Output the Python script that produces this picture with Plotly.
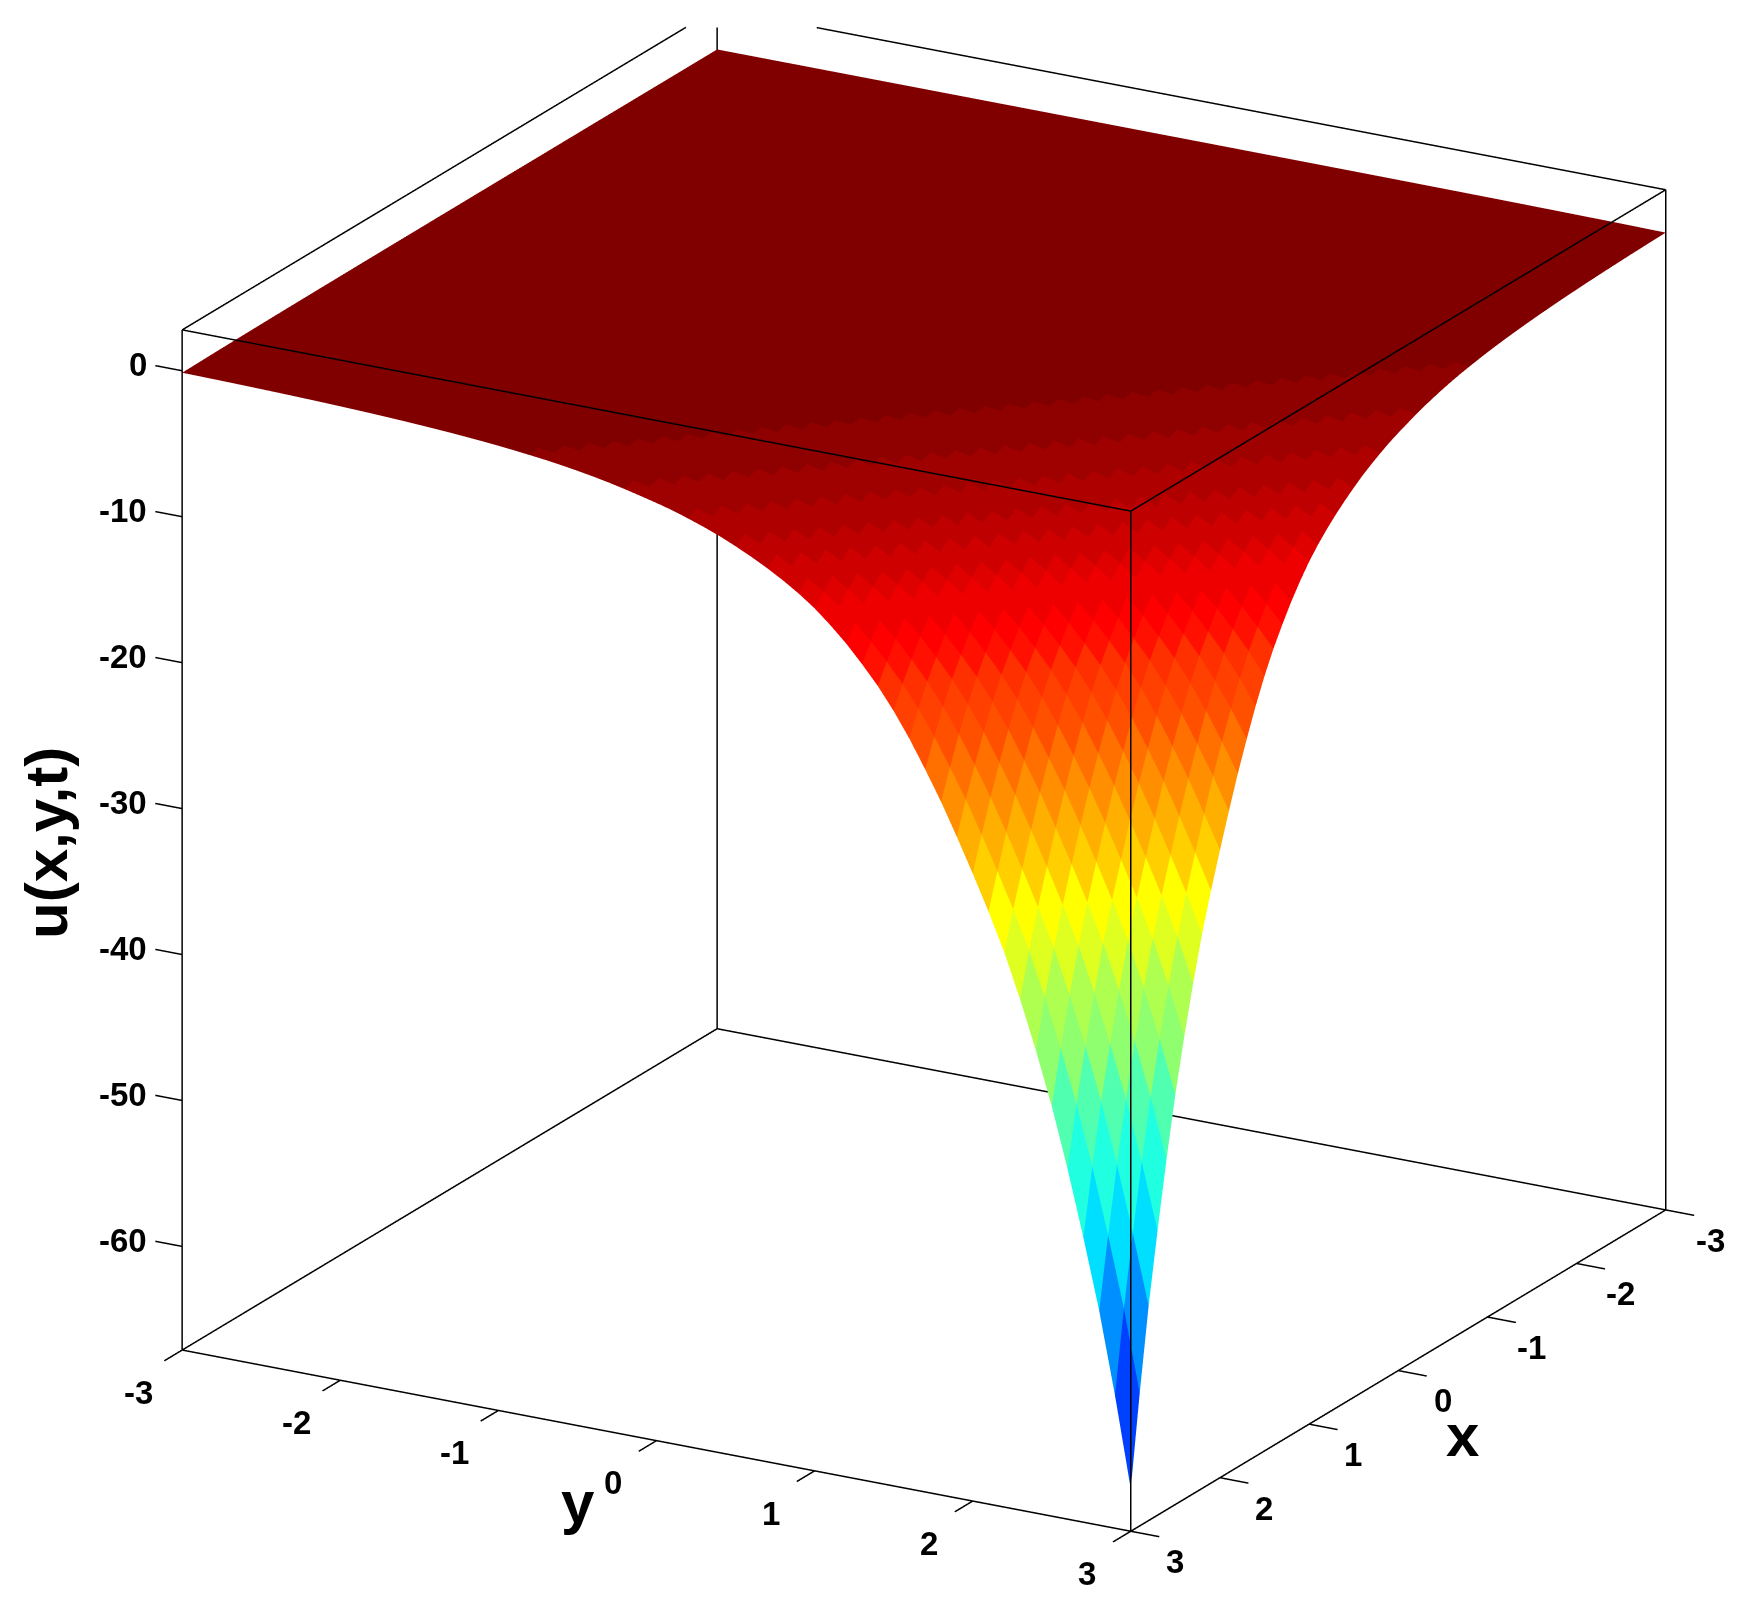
import math
import plotly.graph_objects as go

# u(x,y,t), one value per grid diagonal (x + y from -6 to 6, step 0.1)
u_by_sum = [
    -0.00033, -0.00037, -0.00041, -0.00045, -0.0005, -0.00055, -0.00061, -0.00067, -0.00075, -0.00082,
    -0.00091, -0.00101, -0.00111, -0.00123, -0.00136, -0.0015, -0.00166, -0.00183, -0.00202, -0.00224,
    -0.00247, -0.00273, -0.00302, -0.00334, -0.00369, -0.00408, -0.00451, -0.00498, -0.0055, -0.00608,
    -0.00672, -0.00743, -0.00821, -0.00907, -0.01, -0.0111, -0.0122, -0.0135, -0.015, -0.0165,
    -0.0183, -0.0202, -0.0223, -0.0247, -0.0273, -0.0301, -0.0333, -0.0368, -0.0407, -0.0449,
    -0.0497, -0.0549, -0.0607, -0.0671, -0.0741, -0.0819, -0.0905, -0.1, -0.111, -0.122,
    -0.135, -0.149, -0.165, -0.182, -0.201, -0.223, -0.246, -0.272, -0.3, -0.332,
    -0.367, -0.406, -0.448, -0.495, -0.547, -0.605, -0.669, -0.739, -0.817, -0.903,
    -1.0, -1.11, -1.23, -1.36, -1.51, -1.68, -1.87, -2.08, -2.32, -2.58,
    -2.85, -3.15, -3.5, -3.88, -4.3, -4.78, -5.3, -5.87, -6.5, -7.2,
    -8.0, -8.95, -10.0, -11.2, -12.5, -14.0, -15.7, -17.6, -19.6, -21.8,
    -24.1, -26.5, -29.1, -32.1, -35.4, -39.0, -43.1, -47.6, -52.4, -58.0,
    -64.2,
]
grid_n = 61
x_lim = [-3, 3]
y_lim = [-3, 3]
z_lim = [-67.1, 2.8]
xy_ticks = [-3, -2, -1, 0, 1, 2, 3]
z_ticks = [0, -10, -20, -30, -40, -50, -60]

# view direction, read from the box corners
azim = math.radians(29.42)
elev = math.radians(19.8)
view_dist = 0.74
eye_push = 1.5  # slide eye and centre towards the viewer so the near plane clears the box
zoom = 1.352  # orthographic scale follows the aspect ratio, not the eye distance
shift_right = 49 / 806
shift_up = 30.5 / 806


def jet(level):
    """MATLAB jet(64) colour for level 0..63"""
    t = (level + 1) / 64
    r = min(1, max(0, 1.5 - abs(4 * t - 3)))
    g = min(1, max(0, 1.5 - abs(4 * t - 2)))
    b = min(1, max(0, 1.5 - abs(4 * t - 1)))
    return f'rgb({round(r*255)},{round(g*255)},{round(b*255)})'


# mesh with one flat colour per cell, taken from the cell's low corner like shading flat
xs, ys, zs = [], [], []
for a in range(grid_n):
    for b in range(grid_n):
        xs.append(-3 + a * 0.1)
        ys.append(-3 + b * 0.1)
        zs.append(u_by_sum[a + b])

ti, tj, tk, colors = [], [], [], []
cmin, cmax = min(u_by_sum), 0
for a in range(grid_n - 1):
    for b in range(grid_n - 1):
        p00 = a * grid_n + b
        p01 = p00 + 1
        p10 = p00 + grid_n
        p11 = p10 + 1
        level = min(63, int((u_by_sum[a + b] - cmin) / (cmax - cmin) * 64))
        ti += [p00, p11]
        tj += [p01, p01]
        tk += [p10, p10]
        colors += [jet(level), jet(level)]

fig = go.Figure()
fig.add_trace(go.Mesh3d(
    x=xs, y=ys, z=zs, i=ti, j=tj, k=tk,
    facecolor=colors,
    flatshading=True,
    lighting=dict(ambient=1, diffuse=0, specular=0, roughness=1, fresnel=0),
    hoverinfo='skip',
))

# box edges and tick marks
x0, x1 = x_lim
y0, y1 = y_lim
z0, z1 = z_lim
z_cut = z1 - 1.3  # the picture is cropped just under the top back corner
segments = [
    ((x0, y0, z0), (x1, y0, z0)), ((x1, y0, z0), (x1, y1, z0)),
    ((x1, y1, z0), (x0, y1, z0)), ((x0, y1, z0), (x0, y0, z0)),
    ((x1, y0, z1), (x1, y1, z1)), ((x1, y1, z1), (x0, y1, z1)),
    ((x1, y0, z1), (-2.65, y0, z1)), ((x0, y1, z1), (x0, -2.37, z1)),
    ((x0, y0, z0), (x0, y0, z_cut)), ((x1, y0, z0), (x1, y0, z1)),
    ((x1, y1, z0), (x1, y1, z1)), ((x0, y1, z0), (x0, y1, z1)),
]
for t in xy_ticks:
    segments.append(((t, y1, z0), (t, y1 + 0.18, z0)))
    segments.append(((x1, t, z0), (x1 + 0.2, t, z0)))
for t in z_ticks:
    segments.append(((x1, y0, t), (x1, y0 - 0.17, t)))

lx, ly, lz = [], [], []
for p, q in segments:
    lx += [p[0], q[0], None]
    ly += [p[1], q[1], None]
    lz += [p[2], q[2], None]
fig.add_trace(go.Scatter3d(
    x=lx, y=ly, z=lz, mode='lines',
    line=dict(color='black', width=3),
    hoverinfo='skip', showlegend=False,
))

tick_font = dict(family='Liberation Sans', size=33, color='black', weight='bold')
title_font = dict(family='Liberation Sans', size=60, color='black', weight='bold')

labels = []
for t in z_ticks:
    labels.append(dict(x=x1, y=y0 - 0.21, z=t, text=str(t), xanchor='right', yanchor='middle'))
for t in xy_ticks:
    labels.append(dict(x=t, y=y1 + 0.28, z=z0 - 1.5, text=str(t), xanchor='center', yanchor='middle'))
    labels.append(dict(x=x1 + 0.49, y=t, z=z0 - 1.1, text=str(t), xanchor='center', yanchor='middle'))
for ann in labels:
    ann.update(showarrow=False, font=tick_font)

hidden = dict(visible=False)
right = (-math.sin(azim), math.cos(azim), 0)
up = (-math.sin(elev) * math.cos(azim), -math.sin(elev) * math.sin(azim), math.cos(elev))
look = (math.cos(azim) * math.cos(elev), math.sin(azim) * math.cos(elev), math.sin(elev))
center = [-shift_right * right[n] - shift_up * up[n] + eye_push * look[n] for n in range(3)]
eye = [center[n] + view_dist * look[n] for n in range(3)]

fig.update_layout(
    width=1750,
    height=1611,
    margin=dict(l=0, r=0, t=0, b=0),
    paper_bgcolor='white',
    showlegend=False,
    scene=dict(
        domain=dict(x=[0, 1], y=[0, 1]),
        xaxis=dict(range=[-3.8, 3.8], **hidden),
        yaxis=dict(range=[-3.8, 3.8], **hidden),
        zaxis=dict(range=[-73, 8], **hidden),
        aspectmode='manual',
        aspectratio=dict(x=zoom * 7.6 / 6, y=zoom * 7.6 / 6, z=0.9956 * zoom * 81 / 69.9),
        camera=dict(
            projection=dict(type='orthographic'),
            up=dict(x=0, y=0, z=1),
            center=dict(x=center[0], y=center[1], z=center[2]),
            eye=dict(x=eye[0], y=eye[1], z=eye[2]),
        ),
        annotations=labels,
    ),
    annotations=[
        dict(x=1462 / 1750, y=1 - 1435 / 1611, xref='paper', yref='paper', text='x',
             xanchor='center', yanchor='middle', showarrow=False, font=title_font),
        dict(x=578 / 1750, y=1 - 1502 / 1611, xref='paper', yref='paper', text='y',
             xanchor='center', yanchor='middle', showarrow=False, font=title_font),
        dict(x=47 / 1750, y=1 - 843 / 1611, xref='paper', yref='paper', text='u(x,y,t)',
             xanchor='center', yanchor='middle', textangle=-90, showarrow=False, font=title_font),
    ],
)

fig.write_html("out.html", config=dict(displayModeBar=False),
               post_script="document.body.style.margin='0';")
